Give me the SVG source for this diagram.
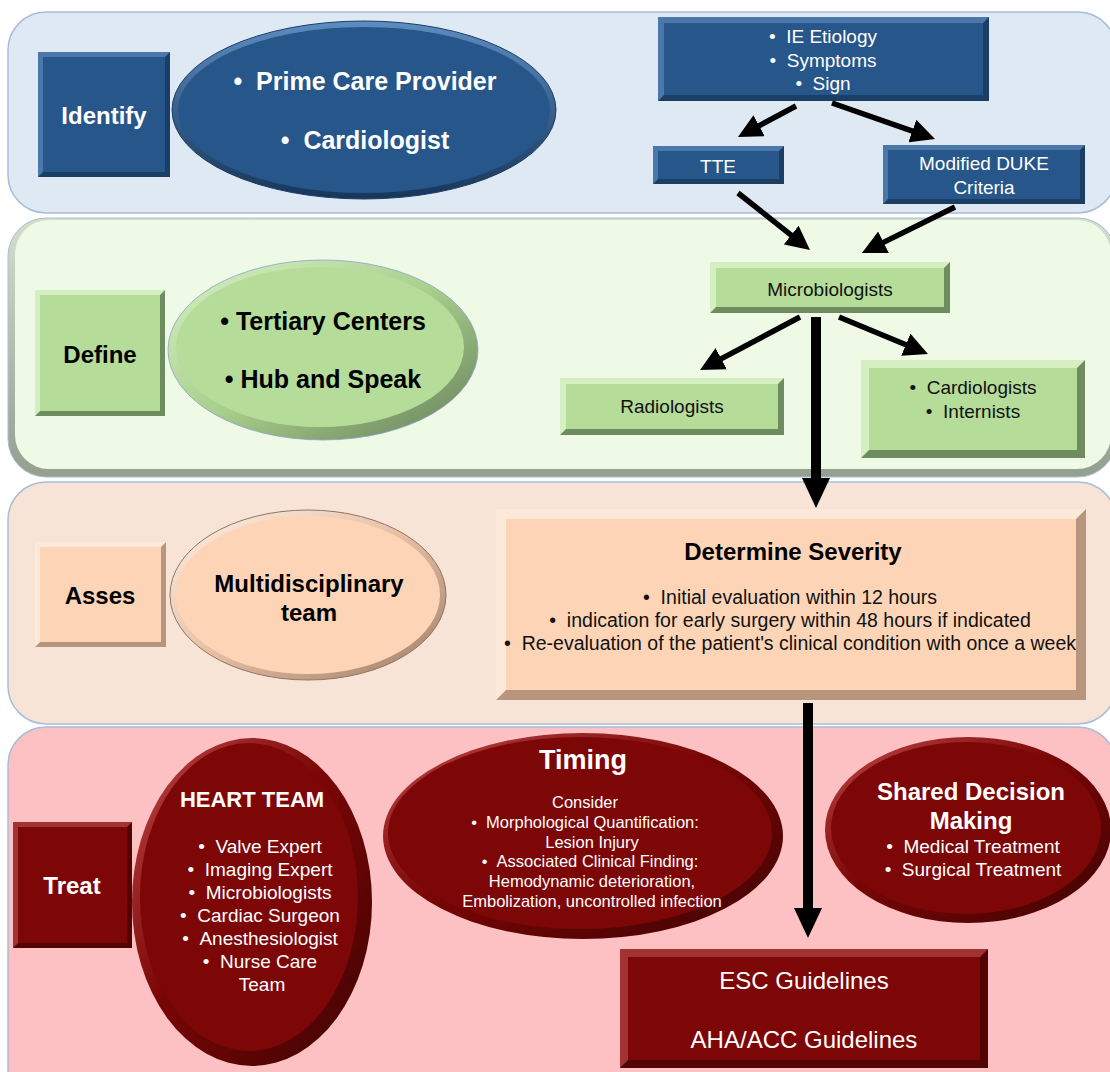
<svg xmlns="http://www.w3.org/2000/svg" width="1110" height="1072" viewBox="0 0 1110 1072">
<defs>
<style>
text{font-family:"Liberation Sans",Arial,sans-serif;text-anchor:middle}
.bw{fill:#fff;font-weight:bold}
.bk{fill:#000;font-weight:bold}
.w{fill:#fff}
.k{fill:#111}
.s15{font-size:16.5px}
.s18{font-size:19px}
.s19{font-size:19.5px}
.s20{font-size:22px}
.s24{font-size:24px}
.s25{font-size:25px}
.s26{font-size:27px}
.arr{stroke:#000;stroke-width:5.5;fill:none}
.thick{stroke:#000;stroke-width:10;fill:none}
.bd{fill:#1b3e65}.bl{fill:#4a78aa}.bm{fill:#26568a}
.gd{fill:#6f8c60}.gl{fill:#d5efc3}.gm{fill:#b5dd99}
.pd{fill:#b8957d}.pl{fill:#fde9da}.pm{fill:#fdd5b6}
.rd{fill:#520303}.rl{fill:#a33232}.rm{fill:#7d0606}
</style>
<marker id="ah" markerUnits="userSpaceOnUse" markerWidth="24" markerHeight="24" viewBox="0 0 24 24" refX="4" refY="12" orient="auto"><path d="M0,0 L24,12 L0,24 z" fill="#000"/></marker>
<marker id="ahb" markerUnits="userSpaceOnUse" markerWidth="30" markerHeight="28" viewBox="0 0 30 28" refX="4" refY="14" orient="auto"><path d="M0,0 L30,14 L0,28 z" fill="#000"/></marker>
<linearGradient id="rimB" x1="0" y1="0" x2="0" y2="1"><stop offset="0" stop-color="#5d8cc0"/><stop offset="1" stop-color="#163659"/></linearGradient>
<linearGradient id="rimG" x1="0" y1="0" x2="1" y2="1"><stop offset="0" stop-color="#d8f2c6"/><stop offset="0.5" stop-color="#a9cf8d"/><stop offset="1" stop-color="#667f58"/></linearGradient>
<linearGradient id="rimP" x1="0" y1="0" x2="1" y2="1"><stop offset="0" stop-color="#fff1e6"/><stop offset="0.5" stop-color="#e6bea3"/><stop offset="1" stop-color="#9c7c68"/></linearGradient>
<linearGradient id="rimR" x1="0" y1="0" x2="1" y2="1"><stop offset="0" stop-color="#c04848"/><stop offset="0.45" stop-color="#7a0606"/><stop offset="1" stop-color="#3e0202"/></linearGradient>
<linearGradient id="defBand" x1="0" y1="0" x2="0" y2="1"><stop offset="0" stop-color="#d3dfcc"/><stop offset="1" stop-color="#939f8f"/></linearGradient>
</defs>

<!-- bands -->
<g id="band-identify"><rect x="8" y="12" width="1108" height="201" rx="38" fill="#dfe9f4" stroke="#a9bdd8" stroke-width="1.5"/></g>
<g id="band-define"><rect x="8" y="218" width="1108" height="259" rx="38" fill="url(#defBand)" stroke="#a9bdd8" stroke-width="1"/><rect x="15" y="220" width="1096" height="249" rx="34" fill="#eefae6"/></g>
<g id="band-asses"><rect x="8" y="482" width="1108" height="242" rx="38" fill="#f8e4d7" stroke="#a9bdd8" stroke-width="1.5"/></g>
<g id="band-treat"><rect x="8" y="727" width="1108" height="380" rx="38" fill="#fdc1c3" stroke="#a9bdd8" stroke-width="1.5"/></g>

<!-- Identify row -->
<g id="identify">
<rect x="38" y="52" width="132" height="125" class="bd"/>
<polygon points="38,52 170,52 165,57 43,57 43,172 38,177" class="bl"/>
<rect x="43" y="57" width="122" height="115" class="bm"/>
<text x="104" y="124" class="bw s24">Identify</text>
</g>
<g id="prime-care">
<ellipse cx="364" cy="110" rx="192" ry="89" fill="url(#rimB)" stroke="#1b3e65" stroke-width="1"/>
<ellipse cx="364" cy="110" rx="186" ry="83" class="bm"/>
<text x="365" y="90" class="bw s25">•&#160;&#160;Prime Care Provider</text>
<text x="365" y="149" class="bw s25">•&#160;&#160;Cardiologist</text>
</g>
<g id="ie-etiology">
<rect x="658" y="17" width="331" height="84" class="bd"/>
<polygon points="658,17 989,17 983,23 664,23 664,95 658,101" class="bl"/>
<rect x="664" y="23" width="319" height="72" class="bm"/>
<text x="823" y="43" class="w s18">•&#160;&#160;IE Etiology</text>
<text x="823" y="67" class="w s18">•&#160;&#160;Symptoms</text>
<text x="823" y="90" class="w s18">•&#160;&#160;Sign</text>
</g>
<g id="tte">
<rect x="653" y="146" width="131" height="38" class="bd"/>
<polygon points="653,146 784,146 779,151 658,151 658,179 653,184" class="bl"/>
<rect x="658" y="151" width="121" height="28" class="bm"/>
<text x="718" y="173" class="w s18">TTE</text>
</g>
<g id="duke">
<rect x="883" y="145" width="202" height="59" class="bd"/>
<polygon points="883,145 1085,145 1080,150 888,150 888,199 883,204" class="bl"/>
<rect x="888" y="150" width="192" height="49" class="bm"/>
<text x="984" y="170" class="w s18">Modified DUKE</text>
<text x="984" y="194" class="w s18">Criteria</text>
</g>

<!-- Define row -->
<g id="define">
<rect x="35" y="290" width="130" height="126" class="gd"/>
<polygon points="35,290 165,290 160,295 40,295 40,411 35,416" class="gl"/>
<rect x="40" y="295" width="120" height="116" class="gm"/>
<text x="100" y="363" class="bk s24">Define</text>
</g>
<g id="tertiary">
<ellipse cx="323" cy="350" rx="155" ry="90" fill="url(#rimG)" stroke="#8aa3c8" stroke-width="0.8"/>
<ellipse cx="320" cy="347" rx="144" ry="80" class="gm"/>
<text x="323" y="330" class="bk s25">•&#160;Tertiary Centers</text>
<text x="323" y="388" class="bk s25">•&#160;Hub and Speak</text>
</g>
<g id="microbiologists">
<rect x="710" y="262" width="240" height="51" class="gd"/>
<polygon points="710,262 950,262 944,268 716,268 716,307 710,313" class="gl"/>
<rect x="716" y="268" width="228" height="39" class="gm"/>
<text x="830" y="296" class="k s18">Microbiologists</text>
</g>
<g id="radiologists">
<rect x="560" y="378" width="224" height="57" class="gd"/>
<polygon points="560,378 784,378 778,384 566,384 566,429 560,435" class="gl"/>
<rect x="566" y="384" width="212" height="45" class="gm"/>
<text x="672" y="413" class="k s18">Radiologists</text>
</g>
<g id="cardiologists">
<rect x="861" y="360" width="224" height="98" class="gd"/>
<polygon points="861,360 1085,360 1077,368 869,368 869,450 861,458" class="gl"/>
<rect x="869" y="368" width="208" height="82" class="gm"/>
<text x="973" y="394" class="k s18">•&#160;&#160;Cardiologists</text>
<text x="973" y="418" class="k s18">•&#160;&#160;Internists</text>
</g>

<!-- Asses row -->
<g id="asses">
<rect x="35" y="542" width="131" height="105" class="pd"/>
<polygon points="35,542 166,542 161,547 40,547 40,642 35,647" class="pl"/>
<rect x="40" y="547" width="121" height="95" class="pm"/>
<text x="100" y="604" class="bk s24">Asses</text>
</g>
<g id="multidisciplinary">
<ellipse cx="308" cy="595" rx="138" ry="85" fill="url(#rimP)" stroke="#8f7563" stroke-width="1"/>
<ellipse cx="308" cy="595" rx="132" ry="79" class="pm"/>
<text x="309" y="592" class="bk s24">Multidisciplinary</text>
<text x="309" y="621" class="bk s24">team</text>
</g>
<g id="severity">
<rect x="496" y="509" width="590" height="191" class="pd"/>
<polygon points="496,509 1086,509 1076,519 506,519 506,690 496,700" class="pl"/>
<rect x="506" y="519" width="570" height="171" class="pm"/>
<text x="793" y="560" class="bk s24">Determine Severity</text>
<text x="790" y="604" class="k s19">•&#160;&#160;Initial evaluation within 12 hours</text>
<text x="790" y="627" class="k s19">•&#160;&#160;indication for early surgery within 48 hours if indicated</text>
<text x="790" y="650" class="k s19">•&#160;&#160;Re-evaluation of the patient's clinical condition with once a week</text>
</g>

<!-- Treat row -->
<g id="treat">
<rect x="13" y="822" width="119" height="126" class="rd"/>
<polygon points="13,822 132,822 127,827 18,827 18,943 13,948" class="rl"/>
<rect x="18" y="827" width="109" height="116" class="rm"/>
<text x="72" y="894" class="bw s24">Treat</text>
</g>
<g id="heart-team">
<ellipse cx="252" cy="902" rx="120" ry="164" fill="url(#rimR)"/>
<ellipse cx="249" cy="897" rx="109" ry="154" class="rm"/>
<text x="252" y="807" class="bw s20">HEART TEAM</text>
<text x="260" y="853" class="w s18">•&#160;&#160;Valve Expert</text>
<text x="260" y="876" class="w s18">•&#160;&#160;Imaging Expert</text>
<text x="260" y="899" class="w s18">•&#160;&#160;Microbiologists</text>
<text x="260" y="922" class="w s18">•&#160;&#160;Cardiac Surgeon</text>
<text x="260" y="945" class="w s18">•&#160;&#160;Anesthesiologist</text>
<text x="260" y="968" class="w s18">•&#160;&#160;Nurse Care</text>
<text x="262" y="991" class="w s18">Team</text>
</g>
<g id="timing">
<ellipse cx="583" cy="836" rx="200" ry="103" fill="url(#rimR)"/>
<ellipse cx="580" cy="833" rx="192" ry="96" class="rm"/>
<text x="583" y="769" class="bw s26">Timing</text>
<text x="585" y="808" class="w s15">Consider</text>
<text x="585" y="828" class="w s15">•&#160;&#160;Morphological Quantification:</text>
<text x="592" y="848" class="w s15">Lesion Injury</text>
<text x="590" y="867" class="w s15">•&#160;&#160;Associated Clinical Finding:</text>
<text x="592" y="887" class="w s15">Hemodynamic deterioration,</text>
<text x="592" y="907" class="w s15">Embolization, uncontrolled infection</text>
</g>
<g id="shared-decision">
<ellipse cx="968" cy="830" rx="143" ry="93" fill="url(#rimR)"/>
<ellipse cx="966" cy="828" rx="135" ry="86" class="rm"/>
<text x="971" y="800" class="bw s24">Shared Decision</text>
<text x="971" y="829" class="bw s24">Making</text>
<text x="973" y="853" class="w s18">•&#160;&#160;Medical Treatment</text>
<text x="973" y="876" class="w s18">•&#160;&#160;Surgical Treatment</text>
</g>
<g id="guidelines">
<rect x="620" y="949" width="368" height="119" class="rd"/>
<polygon points="620,949 988,949 980,957 628,957 628,1060 620,1068" class="rl"/>
<rect x="628" y="957" width="352" height="103" class="rm"/>
<text x="804" y="989" class="w s24">ESC Guidelines</text>
<text x="804" y="1048" class="w s24">AHA/ACC Guidelines</text>
</g>

<!-- connectors -->
<g id="connectors">
<line x1="796" y1="106" x2="755.6" y2="127.6" class="arr" marker-end="url(#ah)"/>
<line x1="832" y1="103" x2="916.1" y2="132.4" class="arr" marker-end="url(#ah)"/>
<line x1="738" y1="193" x2="794.3" y2="237.6" class="arr" marker-end="url(#ah)"/>
<line x1="955" y1="207" x2="879.9" y2="244.1" class="arr" marker-end="url(#ah)"/>
<line x1="800" y1="317" x2="717.7" y2="360.6" class="arr" marker-end="url(#ah)"/>
<line x1="839" y1="317" x2="909.5" y2="346.3" class="arr" marker-end="url(#ah)"/>
<line x1="816" y1="317" x2="816" y2="482" class="thick" marker-end="url(#ahb)"/>
<line x1="808" y1="703" x2="808" y2="912" class="thick" marker-end="url(#ahb)"/>
</g>
</svg>
